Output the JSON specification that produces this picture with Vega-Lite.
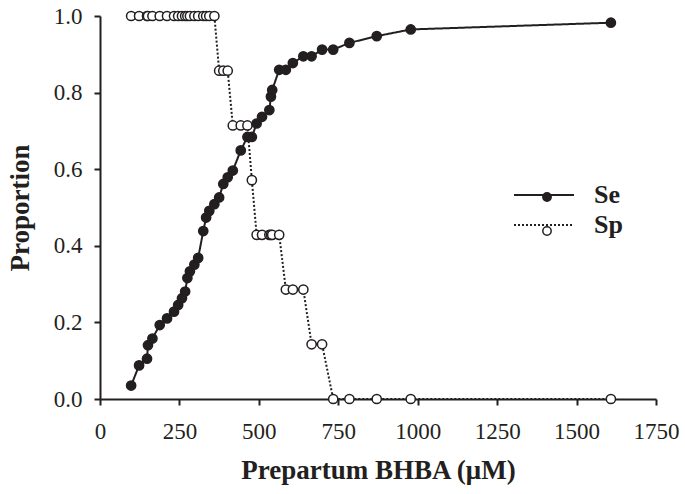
{
  "$schema": "https://vega.github.io/schema/vega-lite/v6.json",
  "width": 556,
  "height": 383,
  "autosize": {"type": "none"},
  "padding": {"left": 100, "top": 16, "right": 29, "bottom": 95},
  "background": "white",
  "config": {
    "view": {"stroke": null},
    "font": "Liberation Serif"
  },
  "data": {
    "values": [
      {"bhba": 98, "series": "Se", "p": 0.0351}, {"bhba": 98, "series": "Sp", "p": 1},
      {"bhba": 123, "series": "Se", "p": 0.0877}, {"bhba": 123, "series": "Sp", "p": 1},
      {"bhba": 148, "series": "Se", "p": 0.1053}, {"bhba": 148, "series": "Sp", "p": 1},
      {"bhba": 151, "series": "Se", "p": 0.1404}, {"bhba": 151, "series": "Sp", "p": 1},
      {"bhba": 165, "series": "Se", "p": 0.1579}, {"bhba": 165, "series": "Sp", "p": 1},
      {"bhba": 188, "series": "Se", "p": 0.193}, {"bhba": 188, "series": "Sp", "p": 1},
      {"bhba": 211, "series": "Se", "p": 0.2105}, {"bhba": 211, "series": "Sp", "p": 1},
      {"bhba": 233, "series": "Se", "p": 0.2281}, {"bhba": 233, "series": "Sp", "p": 1},
      {"bhba": 246, "series": "Se", "p": 0.2456}, {"bhba": 246, "series": "Sp", "p": 1},
      {"bhba": 258, "series": "Se", "p": 0.2632}, {"bhba": 258, "series": "Sp", "p": 1},
      {"bhba": 268, "series": "Se", "p": 0.2807}, {"bhba": 268, "series": "Sp", "p": 1},
      {"bhba": 275, "series": "Se", "p": 0.3158}, {"bhba": 275, "series": "Sp", "p": 1},
      {"bhba": 283, "series": "Se", "p": 0.3333}, {"bhba": 283, "series": "Sp", "p": 1},
      {"bhba": 297, "series": "Se", "p": 0.3509}, {"bhba": 297, "series": "Sp", "p": 1},
      {"bhba": 309, "series": "Se", "p": 0.3684}, {"bhba": 309, "series": "Sp", "p": 1},
      {"bhba": 325, "series": "Se", "p": 0.4386}, {"bhba": 325, "series": "Sp", "p": 1},
      {"bhba": 334, "series": "Se", "p": 0.4737}, {"bhba": 334, "series": "Sp", "p": 1},
      {"bhba": 344, "series": "Se", "p": 0.4912}, {"bhba": 344, "series": "Sp", "p": 1},
      {"bhba": 360, "series": "Se", "p": 0.5088}, {"bhba": 360, "series": "Sp", "p": 1},
      {"bhba": 375, "series": "Se", "p": 0.5263}, {"bhba": 375, "series": "Sp", "p": 0.8571},
      {"bhba": 388, "series": "Se", "p": 0.5614}, {"bhba": 388, "series": "Sp", "p": 0.8571},
      {"bhba": 402, "series": "Se", "p": 0.5789}, {"bhba": 402, "series": "Sp", "p": 0.8571},
      {"bhba": 418, "series": "Se", "p": 0.5965}, {"bhba": 418, "series": "Sp", "p": 0.7143},
      {"bhba": 443, "series": "Se", "p": 0.6491}, {"bhba": 443, "series": "Sp", "p": 0.7143},
      {"bhba": 464, "series": "Se", "p": 0.6842}, {"bhba": 464, "series": "Sp", "p": 0.7143},
      {"bhba": 478, "series": "Se", "p": 0.6842}, {"bhba": 478, "series": "Sp", "p": 0.5714},
      {"bhba": 493, "series": "Se", "p": 0.7193}, {"bhba": 493, "series": "Sp", "p": 0.4286},
      {"bhba": 510, "series": "Se", "p": 0.7368}, {"bhba": 510, "series": "Sp", "p": 0.4286},
      {"bhba": 533, "series": "Se", "p": 0.7544}, {"bhba": 533, "series": "Sp", "p": 0.4286},
      {"bhba": 538, "series": "Se", "p": 0.7895}, {"bhba": 538, "series": "Sp", "p": 0.4286},
      {"bhba": 542, "series": "Se", "p": 0.807}, {"bhba": 542, "series": "Sp", "p": 0.4286},
      {"bhba": 564, "series": "Se", "p": 0.8596}, {"bhba": 564, "series": "Sp", "p": 0.4286},
      {"bhba": 585, "series": "Se", "p": 0.8596}, {"bhba": 585, "series": "Sp", "p": 0.2857},
      {"bhba": 607, "series": "Se", "p": 0.8772}, {"bhba": 607, "series": "Sp", "p": 0.2857},
      {"bhba": 640, "series": "Se", "p": 0.8947}, {"bhba": 640, "series": "Sp", "p": 0.2857},
      {"bhba": 666, "series": "Se", "p": 0.8947}, {"bhba": 666, "series": "Sp", "p": 0.1429},
      {"bhba": 699, "series": "Se", "p": 0.9123}, {"bhba": 699, "series": "Sp", "p": 0.1429},
      {"bhba": 734, "series": "Se", "p": 0.9123}, {"bhba": 734, "series": "Sp", "p": 0},
      {"bhba": 785, "series": "Se", "p": 0.9298}, {"bhba": 785, "series": "Sp", "p": 0},
      {"bhba": 871, "series": "Se", "p": 0.9474}, {"bhba": 871, "series": "Sp", "p": 0},
      {"bhba": 978, "series": "Se", "p": 0.9649}, {"bhba": 978, "series": "Sp", "p": 0},
      {"bhba": 1608, "series": "Se", "p": 0.9825}, {"bhba": 1608, "series": "Sp", "p": 0}
    ]
  },
  "encoding": {
    "x": {
      "field": "bhba", "type": "quantitative",
      "scale": {"domain": [0, 1750], "nice": false, "zero": false},
      "axis": {
        "title": "Prepartum BHBA (μM)",
        "values": [0, 250, 500, 750, 1000, 1250, 1500, 1750],
        "format": "d",
        "grid": false, "labelFlush": false, "labelOverlap": false,
        "domainColor": "#231f20", "domainWidth": 2,
        "tickColor": "#231f20", "tickWidth": 2, "tickSize": 6,
        "labelFont": "Liberation Serif", "labelFontSize": 23, "labelColor": "#231f20", "labelPadding": 15,
        "titleFont": "Liberation Serif", "titleFontSize": 27, "titleFontWeight": "bold", "titleColor": "#231f20", "titlePadding": 14
      }
    },
    "y": {
      "field": "p", "type": "quantitative",
      "scale": {"domain": [0, 1], "nice": false},
      "axis": {
        "title": "Proportion",
        "values": [0, 0.2, 0.4, 0.6, 0.8, 1.0],
        "format": ".1f",
        "grid": false, "labelOverlap": false, "labelFlush": false,
        "domainColor": "#231f20", "domainWidth": 2,
        "tickColor": "#231f20", "tickWidth": 2, "tickSize": 6,
        "labelFont": "Liberation Serif", "labelFontSize": 23, "labelColor": "#231f20", "labelPadding": 12,
        "titleFont": "Liberation Serif", "titleFontSize": 27, "titleFontWeight": "bold", "titleColor": "#231f20", "titlePadding": 19
      }
    }
  },
  "layer": [
    {
      "mark": {"type": "line", "color": "#231f20", "strokeWidth": 2},
      "encoding": {
        "strokeDash": {
          "field": "series", "type": "nominal",
          "scale": {"range": [[1, 0], [2, 2]]},
          "legend": {
            "orient": "none", "legendX": 428, "legendY": 163, "title": null,
            "symbolType": "M-2,0L2,0", "symbolSize": 900, "symbolStrokeWidth": 2, "symbolStrokeColor": "#231f20",
            "labelFont": "Liberation Serif", "labelFontSize": 26, "labelFontWeight": "bold", "labelColor": "#231f20",
            "labelOffset": 34, "rowPadding": 1, "padding": 0
          }
        }
      }
    },
    {
      "mark": {"type": "point", "filled": true, "stroke": "#231f20", "strokeWidth": 1.5, "size": 85, "opacity": 1},
      "encoding": {
        "fill": {
          "field": "series", "type": "nominal",
          "scale": {"domain": ["Se", "Sp"], "range": ["#231f20", "white"]},
          "legend": {
            "orient": "none", "legendX": 434, "legendY": 168, "title": null,
            "symbolType": "circle", "symbolSize": 70, "symbolStrokeWidth": 1.5, "symbolStrokeColor": "#231f20", "symbolOpacity": 1,
            "labelFontSize": 26, "labelOpacity": 0, "labelOffset": 0, "rowPadding": 8, "padding": 0
          }
        }
      }
    }
  ]
}
